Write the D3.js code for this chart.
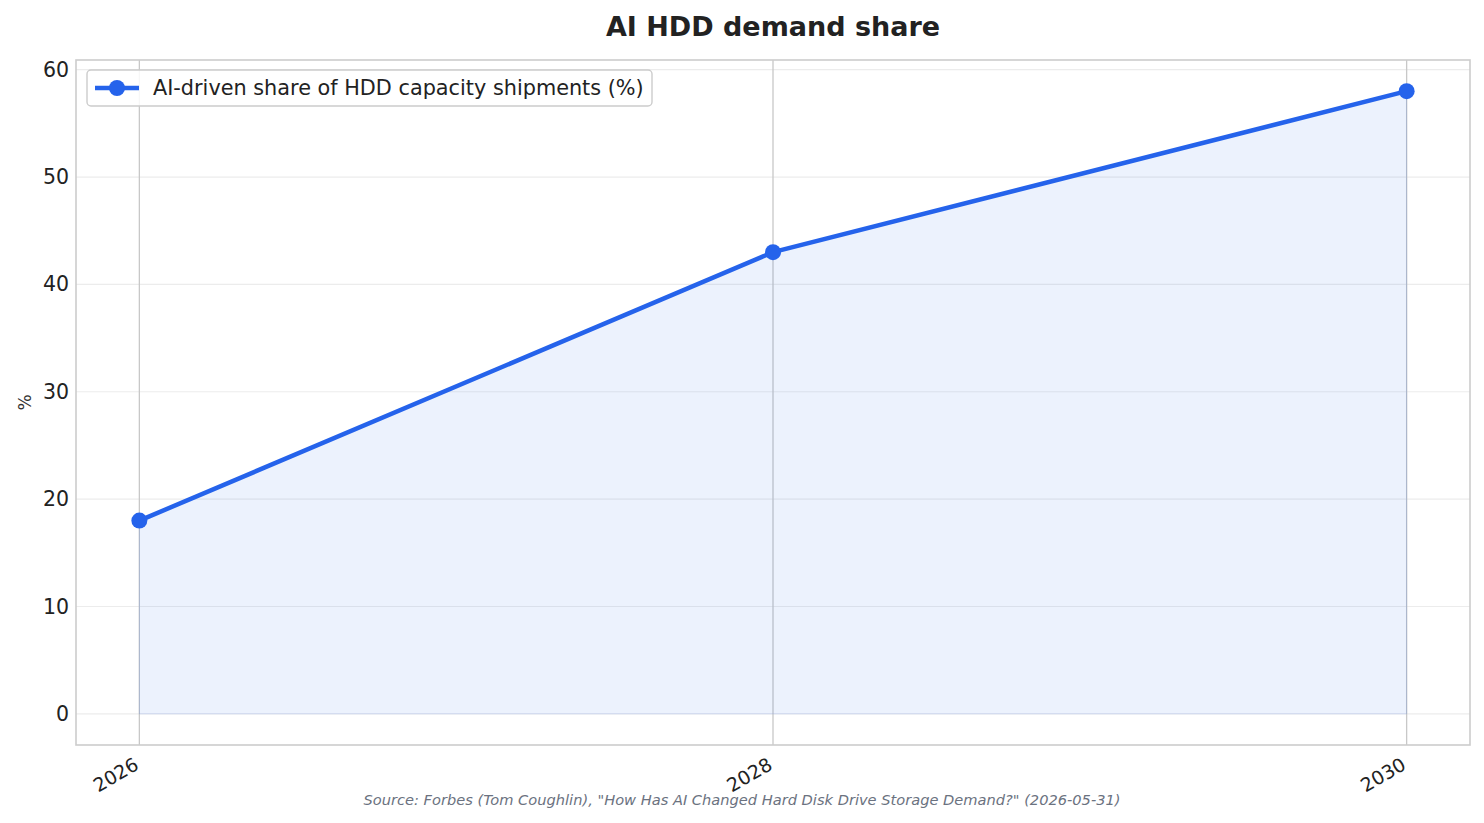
<!DOCTYPE html>
<html>
<head>
<meta charset="utf-8">
<script src="https://cdn.jsdelivr.net/npm/d3@7"></script>
<style>
  body { margin: 0; background: #fff; }
  svg text { font-family: "DejaVu Sans", sans-serif; }
</style>
</head>
<body>
<div id="grafico"></div>
<script>
// datos del grafico
const anios = [2026, 2028, 2030]
const valores = [18, 43, 58]
const yTicks = [0, 10, 20, 30, 40, 50, 60]
const titulo = "AI HDD demand share"
const serieNombre = "AI-driven share of HDD capacity shipments (%)"
const fuente = "Source: Forbes (Tom Coughlin), \"How Has AI Changed Hard Disk Drive Storage Demand?\" (2026-05-31)"

const anchoTotal = 1484
const altoTotal = 823
const margins = { top: 60, right: 14, bottom: 78, left: 76 }
const ancho = anchoTotal - margins.left - margins.right
const alto = altoTotal - margins.top - margins.bottom
const azul = "#2563eb"

const svg = d3.select("#grafico")
  .append("svg")
  .attr("width", anchoTotal)
  .attr("height", altoTotal)

const g = svg.append("g")
  .attr("transform", `translate(${margins.left}, ${margins.top})`)

// escaladores con margen de 5%
const x = d3.scaleLinear().domain([2025.8, 2030.2]).range([0, ancho])
const y = d3.scaleLinear().domain([-2.9, 60.9]).range([alto, 0])

const data = anios.map((a, i) => ({ anio: a, valor: valores[i] }))

// grilla horizontal
g.append("g")
  .selectAll("line")
  .data(yTicks)
  .join("line")
  .attr("x1", 0).attr("x2", ancho)
  .attr("y1", d => y(d)).attr("y2", d => y(d))
  .attr("stroke", "#ececec")
  .attr("stroke-width", 1.2)

// grilla vertical
g.append("g")
  .selectAll("line")
  .data(anios)
  .join("line")
  .attr("x1", d => x(d)).attr("x2", d => x(d))
  .attr("y1", 0).attr("y2", alto)
  .attr("stroke", "#c8c8c8")
  .attr("stroke-width", 1.3)

// area
const area = d3.area()
  .x(d => x(d.anio))
  .y0(y(0))
  .y1(d => y(d.valor))
g.append("path")
  .datum(data)
  .attr("d", area)
  .attr("fill", azul)
  .attr("fill-opacity", 0.085)
  .attr("stroke", azul)
  .attr("stroke-opacity", 0.12)
  .attr("stroke-width", 1)

// linea
const linea = d3.line().x(d => x(d.anio)).y(d => y(d.valor))
g.append("path")
  .datum(data)
  .attr("d", linea)
  .attr("fill", "none")
  .attr("stroke", azul)
  .attr("stroke-width", 4.5)
  .attr("stroke-linejoin", "round")

g.append("g")
  .selectAll("circle")
  .data(data)
  .join("circle")
  .attr("cx", d => x(d.anio))
  .attr("cy", d => y(d.valor))
  .attr("r", 8)
  .attr("fill", azul)

// marco
g.append("rect")
  .attr("width", ancho)
  .attr("height", alto)
  .attr("fill", "none")
  .attr("stroke", "#cccccc")
  .attr("stroke-width", 1.6)

// eje Y
const yAxis = d3.axisLeft(y).tickValues(yTicks).tickSize(0).tickPadding(7)
const yAxisGroup = g.append("g").call(yAxis)
yAxisGroup.select(".domain").remove()
yAxisGroup.selectAll("text")
  .attr("font-size", 20.5)
  .attr("fill", "#222")

// eje X
const xAxis = d3.axisBottom(x).tickValues(anios).tickFormat(d3.format("d")).tickSize(0).tickPadding(0)
const xAxisGroup = g.append("g")
  .attr("transform", `translate(0, ${alto})`)
  .call(xAxis)
xAxisGroup.select(".domain").remove()
xAxisGroup.selectAll("text")
  .attr("font-size", 19)
  .attr("fill", "#222")
  .attr("text-anchor", "end")
  .attr("dy", "0")
  .attr("y", 0)
  .attr("transform", "translate(-7, 11) rotate(-30)")
  .attr("dominant-baseline", "hanging")

// etiqueta Y
svg.append("text")
  .attr("transform", `translate(31, ${margins.top + alto / 2}) rotate(-90)`)
  .attr("text-anchor", "middle")
  .attr("font-size", 17)
  .attr("fill", "#333")
  .text("%")

// titulo
svg.append("text")
  .attr("x", margins.left + ancho / 2)
  .attr("y", 36)
  .attr("text-anchor", "middle")
  .attr("font-size", 27)
  .attr("font-weight", "bold")
  .attr("fill", "#222")
  .text(titulo)

// leyenda
const leyenda = g.append("g").attr("transform", "translate(11, 10)")
leyenda.append("rect")
  .attr("width", 565)
  .attr("height", 36)
  .attr("rx", 4)
  .attr("fill", "#fff")
  .attr("fill-opacity", 0.85)
  .attr("stroke", "#cccccc")
  .attr("stroke-width", 1.4)
leyenda.append("line")
  .attr("x1", 8).attr("x2", 52)
  .attr("y1", 18).attr("y2", 18)
  .attr("stroke", azul)
  .attr("stroke-width", 4.5)
leyenda.append("circle")
  .attr("cx", 30).attr("cy", 18).attr("r", 8).attr("fill", azul)
leyenda.append("text")
  .attr("x", 66)
  .attr("y", 25)
  .attr("font-size", 20.8)
  .attr("fill", "#222")
  .text(serieNombre)

// fuente
svg.append("text")
  .attr("x", 742)
  .attr("y", 805)
  .attr("text-anchor", "middle")
  .attr("font-size", 14)
  .attr("font-style", "italic")
  .attr("fill", "#6b7280")
  .attr("textLength", 757)
  .attr("lengthAdjust", "spacingAndGlyphs")
  .text(fuente)
</script>
</body>
</html>
